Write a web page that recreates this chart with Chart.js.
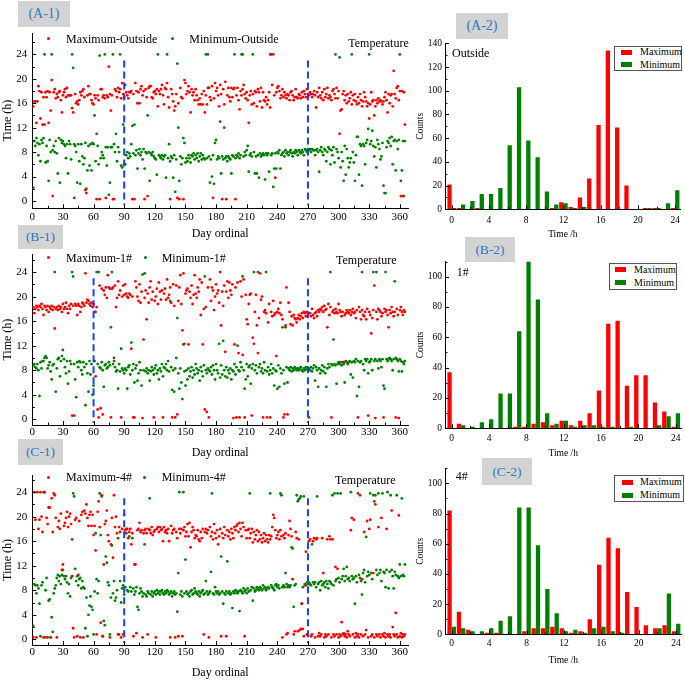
<!DOCTYPE html>
<html><head><meta charset="utf-8">
<script src="https://cdn.jsdelivr.net/npm/chart.js@4/dist/chart.umd.min.js"></script>
<style>
html,body{margin:0;padding:0;background:#fff;}
#wrap{position:relative;width:685px;height:682px;overflow:hidden;font-family:"Liberation Serif","Times New Roman",serif;}
canvas{position:absolute;}
.t{position:absolute;white-space:nowrap;color:#000;}
.tag{position:absolute;background:#d3d3d3;color:#2f75c5;text-align:center;}
.lg{position:absolute;border:1px solid #555;background:#fff;box-sizing:border-box;}
.dot{position:absolute;width:3px;height:3px;border-radius:50%;}
.sw{position:absolute;width:11px;height:5px;}
</style></head><body><div id="wrap"></div>
<script>
// ---------- DATA ----------
const dayOrdinal = Array.from({length: 365}, (_, i) => i + 1);
const dayTicks = [0,15,30,45,60,75,90,105,120,135,150,165,180,195,210,225,240,255,270,285,300,315,330,345,360];
const dayLabels = [0,30,60,90,120,150,180,210,240,270,300,330,360];
const timeTicks = [0,2,4,6,8,10,12,14,16,18,20,22,24,26];
const timeLabels = [0,4,8,12,16,20,24];
const hourBins = [0,1,2,3,4,5,6,7,8,9,10,11,12,13,14,15,16,17,18,19,20,21,22,23,24];
const hourTicks = [0,2,4,6,8,10,12,14,16,18,20,22,24];
const hourLabels = [0,4,8,12,16,20,24];
const countTicksA = [0,10,20,30,40,50,60,70,80,90,100,110,120,130,140];
const countLabelsA = [0,20,40,60,80,100,120,140];
const countTicksBC = [0,10,20,30,40,50,60,70,80,90,100,110];
const countLabelsBC = [0,20,40,60,80,100];

const markDaysA = [90, 270];
const markDaysB = [60, 270];
const markDaysC = [90, 270];
const markSpan = [23.0, -0.6];

// A-1 Outside
const maxOutside = [
15.5,16.3,16.3,12.8,16.3,18.8,18.0,13.5,17.8,12.5,
17.0,12.5,17.8,17.0,18.0,12.8,17.8,14.8,19.8,0.8,
17.8,18.3,16.8,17.5,17.0,17.8,18.0,16.5,14.5,17.3,
17.8,18.3,17.0,18.5,17.3,17.3,17.3,17.3,15.2,14.5,
0.5,17.5,16.0,16.3,15.8,16.5,17.8,17.3,18.0,18.3,
17.0,1.8,1.3,17.3,18.8,17.5,17.5,16.5,16.0,15.8,
17.3,16.8,0.3,17.3,16.5,0.3,18.3,18.3,17.0,17.3,
16.8,0.5,17.3,17.0,22.0,17.5,14.8,17.3,0.3,0.3,
18.3,18.0,17.0,18.5,17.8,18.3,16.8,19.3,17.5,17.0,
19.0,17.8,17.3,16.8,17.8,17.8,18.0,0.3,17.5,0.3,
19.3,18.0,16.0,17.8,16.0,18.3,18.8,17.3,18.0,0.3,
18.3,17.0,0.8,18.5,18.8,18.8,17.0,16.8,17.8,18.0,
17.5,18.3,15.5,18.0,17.5,18.3,19.0,17.3,15.8,18.5,
18.3,19.3,17.0,15.3,0.3,18.3,17.5,16.3,14.8,15.5,
17.5,0.5,16.0,0.3,18.5,17.0,16.8,0.3,19.8,19.3,
17.5,18.0,18.8,17.8,14.5,18.3,17.3,17.8,16.5,18.3,
17.3,16.5,15.8,16.8,15.8,17.5,15.8,18.0,14.5,17.3,
15.8,18.5,18.5,17.0,16.5,18.8,0.5,16.8,19.3,18.0,
18.5,17.3,15.5,19.0,17.5,0.3,18.3,15.8,19.5,0.3,
17.3,18.5,17.0,16.3,18.5,17.0,18.3,18.5,0.3,17.3,
18.5,16.5,15.0,18.0,17.3,18.3,19.0,17.5,16.8,17.8,
16.5,12.8,17.3,18.0,15.8,17.5,16.0,18.0,17.8,15.5,
18.3,17.8,16.3,18.5,15.3,17.8,16.5,16.3,17.0,15.8,
16.5,17.8,15.3,24.0,19.0,24.0,17.3,3.8,17.8,18.5,
18.8,18.0,16.8,17.3,18.3,17.0,17.8,17.3,16.8,17.5,
17.3,16.5,17.8,18.0,17.3,16.5,17.0,18.3,17.0,16.8,
17.5,17.3,16.8,17.8,17.0,18.0,17.5,17.0,18.3,17.5,
17.3,17.8,17.5,17.0,17.5,18.0,17.3,15.3,17.8,17.0,
18.5,17.3,16.8,17.8,16.5,18.3,17.0,17.5,18.5,16.8,
17.3,17.0,16.5,18.0,18.3,17.5,16.8,18.5,16.8,18.0,
11.0,14.8,15.0,17.5,18.0,16.5,17.3,16.0,17.5,16.3,
16.8,17.8,15.8,17.3,16.5,17.5,16.3,15.8,17.0,16.0,
17.5,16.5,15.5,16.3,17.8,17.0,16.3,15.5,16.0,13.5,
15.8,17.8,16.3,16.5,14.0,15.5,16.5,16.0,16.8,16.3,
16.5,16.3,15.8,16.3,17.0,17.8,16.5,14.5,17.5,16.0,
17.3,17.5,15.5,21.3,17.5,16.8,18.5,18.8,16.5,18.0,
0.8,18.0,0.8,17.8,12.5];
const minOutside = [
2.2,9.8,9.0,10.3,9.5,7.5,9.3,6.5,10.0,9.5,
10.3,24.0,6.3,9.0,6.5,3.3,10.0,8.0,24.0,8.3,
9.0,8.0,9.8,7.8,4.5,10.3,3.0,10.0,9.5,9.8,
9.3,9.0,7.0,9.3,4.5,9.8,9.3,6.8,24.0,21.8,
9.3,9.0,8.0,3.0,9.3,6.5,2.8,9.3,7.3,6.0,
7.0,9.5,2.0,5.0,9.0,5.8,9.3,5.0,9.5,9.3,
14.0,6.5,11.0,9.0,6.0,23.8,7.0,8.0,7.5,7.0,
24.0,8.8,5.8,8.8,1.0,3.0,8.8,8.8,24.0,9.3,
8.0,11.0,6.5,8.8,8.0,24.0,5.8,5.5,12.5,6.0,
6.0,7.5,8.0,7.0,7.8,7.3,9.3,12.3,7.8,12.5,
7.5,8.3,5.3,7.8,8.5,7.5,8.0,6.8,8.5,5.3,
8.0,7.8,14.0,8.0,3.3,7.8,7.5,8.0,7.3,7.0,
6.8,4.3,24.0,7.5,7.3,7.0,7.5,6.8,7.3,7.5,
3.8,24.0,7.0,9.3,6.5,7.3,7.0,3.8,7.5,1.5,
6.8,22.5,12.0,3.3,7.3,6.0,7.0,10.3,9.5,6.3,
7.0,6.5,7.5,7.0,6.3,7.5,7.3,7.8,6.8,7.5,
7.0,7.8,6.5,7.3,7.8,6.8,7.5,7.0,6.8,24.0,
7.0,24.0,7.3,3.0,6.8,4.0,7.5,2.8,9.5,10.0,
6.8,7.3,7.0,13.0,4.5,7.3,6.8,12.0,7.0,7.3,
6.5,7.3,7.0,6.8,4.5,7.5,7.3,24.0,7.0,7.5,
7.3,7.8,7.0,7.5,24.0,24.0,7.3,8.0,7.5,8.3,
9.0,4.8,7.5,7.8,7.3,24.0,8.0,4.5,7.3,4.5,
7.5,3.8,7.8,7.3,7.5,7.8,7.5,3.5,7.8,7.5,
7.8,4.8,24.0,7.5,7.8,2.3,5.3,7.8,5.3,8.0,
7.8,8.3,5.3,7.5,7.8,8.0,7.3,8.3,7.8,8.0,
7.5,8.0,8.3,7.8,7.3,8.0,7.8,8.3,8.0,7.5,
8.3,8.0,7.8,8.3,8.0,7.5,8.5,8.3,8.0,8.5,
8.3,8.5,8.0,8.5,8.3,8.3,7.5,8.3,8.5,8.0,
4.8,8.3,8.8,8.0,7.5,8.5,8.3,6.5,8.0,8.8,
8.5,6.0,8.3,7.5,8.8,6.3,24.0,8.5,8.0,7.0,
23.5,5.5,8.0,6.5,3.3,9.0,4.3,8.5,7.0,5.5,
6.3,7.0,24.0,8.0,6.3,3.3,7.5,10.5,10.5,4.3,
9.3,9.0,2.5,9.3,9.0,6.0,9.5,10.0,11.8,24.0,
9.3,9.8,11.5,9.0,7.3,8.8,5.5,10.0,9.3,8.5,
6.8,7.3,9.5,2.5,1.3,1.3,8.8,9.8,9.5,10.3,
9.0,10.5,6.0,9.8,10.0,5.0,9.8,8.5,10.0,24.0,
3.3,5.0,9.8,0.8,9.8];

// B-1 room 1#
const max1 = [
18.3,17.3,18.0,18.5,18.3,17.8,18.5,18.3,18.8,18.0,
17.0,18.5,18.3,17.8,18.5,17.5,18.3,18.0,18.5,17.8,
18.3,14.8,18.0,18.3,17.8,18.5,18.0,18.3,17.5,18.8,
18.0,18.3,19.0,18.0,17.3,18.5,18.0,18.8,0.6,18.5,
0.6,18.8,18.5,17.0,18.8,18.5,17.5,18.3,19.0,18.8,
18.5,23.8,19.0,19.5,19.3,18.8,18.5,19.0,18.3,18.8,
17.5,7.0,18.3,1.6,0.3,21.8,1.8,21.3,0.8,21.0,
20.3,21.5,19.8,23.5,21.5,21.3,0.3,21.3,21.5,9.5,
21.8,18.3,19.8,22.5,20.3,21.0,0.3,20.0,21.8,20.3,
22.0,20.5,20.0,19.8,20.5,20.3,11.5,20.0,0.3,0.3,
22.5,21.5,20.0,19.3,22.0,19.0,20.8,0.2,13.0,19.8,
21.0,16.3,20.5,19.0,21.5,22.5,19.5,20.8,0.3,19.3,
20.0,21.3,18.8,22.3,20.8,19.5,21.0,0.3,20.5,21.3,
19.5,22.8,19.8,20.3,21.5,19.0,0.3,22.0,18.5,0.3,
21.8,0.8,19.3,21.5,23.5,18.8,14.5,23.8,12.3,20.5,
21.0,21.3,12.2,20.8,19.8,21.8,18.8,20.3,23.5,20.5,
19.8,21.5,20.8,22.8,17.0,22.3,12.2,18.0,1.6,18.3,
1.2,21.5,0.3,22.8,19.3,21.5,21.0,17.8,20.0,22.0,
20.5,21.0,19.0,24.0,15.3,20.8,18.5,21.8,11.0,20.8,
22.5,19.8,22.3,21.0,20.3,22.0,0.2,12.2,21.5,0.3,
22.3,10.8,0.3,22.5,20.0,10.5,22.8,0.3,20.3,16.3,
15.5,18.8,20.3,20.5,0.6,13.3,12.3,17.5,20.3,15.3,
10.8,16.5,23.8,19.5,20.0,0.3,17.5,17.8,17.3,0.3,
15.8,18.8,0.3,17.5,16.8,19.3,17.0,17.3,10.3,17.5,
18.0,17.3,19.0,17.0,16.3,0.3,0.8,15.3,21.5,0.8,
19.0,17.5,15.5,16.8,15.3,17.0,16.5,16.3,15.8,16.5,
17.0,16.3,16.8,17.3,16.5,17.5,17.3,16.8,17.5,17.0,
0.3,17.3,16.8,18.0,17.0,16.5,17.3,17.5,16.8,17.8,
17.5,18.0,17.8,18.3,17.5,18.5,17.8,18.0,15.0,18.8,
17.0,18.3,0.3,17.5,17.8,17.3,18.0,17.5,17.3,18.8,
17.8,17.5,16.8,17.5,9.3,17.0,17.3,17.8,17.5,17.3,
17.8,17.0,17.5,18.0,17.3,17.5,16.5,17.8,0.3,18.3,
17.5,16.3,17.8,17.0,16.8,17.5,16.3,18.0,0.6,17.5,
17.0,14.0,16.5,17.8,21.8,0.2,17.5,16.3,18.0,17.8,
17.5,16.8,17.3,0.3,18.0,17.5,17.8,17.0,15.0,17.8,
17.3,18.3,17.5,16.8,17.5,0.3,18.0,17.0,0.2,17.8,
18.3,17.5,17.0,17.8,17.5];
const min1 = [
8.8,9.0,8.5,8.3,9.0,8.0,3.8,9.3,8.3,9.5,
9.5,10.0,10.3,10.0,8.3,8.8,9.3,7.8,6.5,8.8,
9.0,24.0,4.5,8.3,9.8,10.0,7.0,9.5,10.3,11.3,
9.8,8.5,7.5,9.5,5.8,7.8,9.5,9.0,24.0,23.3,
9.0,6.5,3.6,9.3,8.5,9.5,9.3,8.0,7.3,9.3,
8.5,2.3,9.0,7.5,4.5,9.5,7.3,9.0,4.0,5.5,
9.5,17.5,24.0,9.0,24.0,8.5,8.3,9.3,8.0,5.3,
8.8,9.0,8.3,8.5,9.3,8.8,15.0,24.0,9.0,10.0,
8.5,7.8,8.0,5.0,9.0,7.8,11.5,8.3,8.0,7.5,
8.3,8.0,5.0,8.5,8.8,7.3,12.5,8.0,9.0,6.0,
8.3,8.8,6.3,7.5,9.3,8.0,5.5,23.6,8.0,23.8,
7.8,8.3,7.5,8.0,6.3,7.8,8.5,8.0,7.3,8.3,
8.8,7.5,8.0,6.5,8.3,7.8,9.0,7.0,8.5,8.3,
9.0,8.0,9.5,7.8,19.3,8.5,4.8,8.0,4.5,8.3,
10.0,16.5,7.5,5.0,8.3,6.0,3.3,12.2,7.8,5.5,
8.0,6.5,8.3,7.0,7.8,8.5,6.8,8.0,7.3,9.0,
8.3,7.5,8.0,6.3,8.5,7.8,7.0,8.8,23.3,8.0,
7.5,8.3,8.0,7.8,8.5,7.3,8.8,8.0,6.5,9.0,
8.0,7.5,12.3,6.8,8.8,7.3,12.8,8.0,7.0,8.5,
6.8,8.0,7.5,8.3,6.5,8.0,7.8,9.0,7.3,8.5,
12.0,8.0,7.8,9.3,8.5,23.3,8.0,5.0,6.5,9.0,
7.0,8.5,8.8,5.8,8.3,9.0,24.0,8.0,8.8,7.5,
24.0,8.5,9.0,7.8,8.3,7.5,9.3,8.0,24.0,7.8,
8.5,7.3,8.0,9.0,7.5,8.3,5.5,8.0,7.8,5.0,
8.8,5.3,8.3,7.5,15.0,8.0,5.8,15.0,8.5,6.0,
8.3,8.0,8.5,7.8,8.3,8.0,8.5,8.3,8.0,8.3,
8.0,8.3,8.5,8.0,7.8,8.3,8.0,8.5,8.3,8.0,
8.3,8.0,8.5,7.8,8.3,8.8,6.3,8.5,8.0,5.3,
8.3,7.5,8.0,8.8,7.8,8.5,7.5,5.3,8.3,9.0,
8.5,24.0,9.0,8.8,13.0,9.0,8.8,5.8,9.0,9.3,
9.0,9.3,8.8,9.3,9.0,6.0,9.5,9.3,9.0,9.3,
9.5,7.3,9.3,6.8,9.5,9.3,9.8,3.8,9.5,5.3,
9.3,9.5,24.0,9.0,8.0,9.8,9.5,9.8,7.5,9.3,
9.5,9.8,8.0,24.0,9.5,9.8,24.0,9.5,8.3,9.8,
9.5,8.5,9.8,5.5,5.0,24.0,9.8,9.5,9.8,10.0,
9.8,9.5,8.0,9.8,22.5,10.0,9.8,9.5,7.8,9.8,
9.5,7.8,9.3,9.0,9.5];

// C-1 room 4#
const max4 = [
0.3,24.0,19.5,0.3,24.0,18.0,19.5,24.0,20.0,17.5,
0.3,24.0,0.3,19.8,18.8,21.5,21.5,0.3,23.0,17.5,
23.8,23.5,19.8,0.3,18.3,19.3,18.0,20.5,11.3,12.2,
18.5,19.0,19.8,20.8,18.3,20.0,20.5,18.8,10.3,1.8,
0.3,19.5,19.8,0.5,10.5,19.3,0.3,20.3,20.8,0.3,
21.0,20.5,22.0,19.8,18.5,20.3,20.8,18.5,20.3,17.0,
18.5,14.5,0.8,20.8,22.5,18.3,2.7,23.5,0.5,12.2,
18.8,19.3,21.0,17.0,16.0,0.3,15.5,19.8,13.3,23.5,
18.3,20.0,17.3,0.8,18.3,17.5,0.3,18.0,0.8,20.3,
17.8,17.3,18.0,16.5,17.5,18.0,15.5,17.3,0.5,12.2,
12.2,1.0,17.8,18.0,19.0,17.5,17.8,0.3,17.3,17.8,
18.0,17.3,0.8,18.0,17.8,17.3,18.3,17.0,17.5,17.8,
0.3,18.0,18.3,17.5,18.3,17.8,18.0,16.0,18.3,17.5,
17.8,17.3,18.0,16.0,0.3,18.5,17.3,17.8,18.0,0.3,
17.5,16.5,0.5,18.0,17.3,18.0,0.5,17.8,18.3,16.8,
17.5,18.8,16.8,19.0,15.0,17.5,18.3,17.8,16.5,17.0,
16.8,17.8,16.3,16.0,17.5,16.5,18.0,0.8,17.5,18.0,
17.3,17.8,0.3,18.3,16.8,17.5,16.3,18.8,17.3,16.5,
17.8,15.5,16.8,18.0,0.5,17.3,16.5,18.3,17.0,0.5,
17.8,16.8,17.5,16.3,18.0,17.3,16.5,18.3,17.8,18.5,
18.8,17.5,19.0,18.0,16.8,19.0,18.3,0.5,17.8,16.5,
17.8,18.0,16.5,17.3,18.0,15.8,17.5,16.3,17.0,17.8,
16.0,17.5,16.3,17.0,15.8,16.5,17.3,16.0,17.0,16.3,
15.8,17.0,16.3,16.8,18.3,20.3,19.8,17.8,16.5,17.0,
17.5,16.3,17.8,16.8,0.3,17.0,16.5,17.3,0.8,1.0,
17.0,19.3,18.0,16.8,9.8,0.8,1.3,17.5,16.5,1.3,
16.3,1.5,1.7,5.8,1.7,0.5,8.8,14.3,0.8,0.8,
16.0,16.3,0.5,0.8,16.0,16.5,0.3,16.3,16.5,0.5,
1.0,0.5,0.8,16.5,10.8,0.3,0.8,0.5,16.3,0.8,
16.8,16.3,0.3,16.3,0.8,0.5,11.8,0.8,11.5,0.3,
0.8,0.5,2.8,0.8,1.0,0.5,0.8,0.3,1.3,0.8,
0.5,17.8,19.8,0.8,19.5,0.3,1.0,0.5,0.8,0.3,
23.5,0.8,9.8,0.5,17.5,0.8,1.5,19.3,0.3,18.0,
19.5,0.5,0.8,10.8,0.3,22.0,0.8,0.5,18.3,0.8,
0.3,19.8,0.8,0.5,1.0,0.3,18.0,0.8,0.5,0.8,
0.3,21.0,2.0,0.8,0.5,4.3,0.8,0.3,20.2,0.5,
1.0,0.3,0.8,0.5,0.8];
const min4 = [
2.2,9.0,8.8,7.5,8.8,8.3,5.8,0.5,8.8,9.3,
24.0,24.0,8.0,10.0,0.3,6.3,6.5,0.3,3.6,1.2,
7.5,8.3,8.8,10.0,10.5,9.5,10.3,9.0,10.5,11.3,
10.3,9.8,10.3,9.3,7.5,9.0,7.0,10.0,16.3,23.8,
23.3,11.5,9.5,10.3,8.8,9.8,10.0,8.3,9.5,8.5,
8.3,1.8,6.8,0.5,4.0,5.5,7.0,5.3,4.8,0.8,
7.8,17.3,9.8,7.5,9.5,23.8,17.0,23.3,0.5,3.0,
2.3,13.5,12.5,9.3,8.8,0.8,6.8,15.3,7.5,9.5,
6.3,6.8,8.0,16.5,0.8,9.5,6.0,8.3,8.8,7.3,
8.5,18.0,8.0,7.8,16.8,8.5,7.8,16.5,8.3,7.3,
7.8,8.5,5.3,4.8,7.5,8.3,7.8,7.0,7.5,15.5,
7.3,7.0,7.8,7.5,23.0,7.3,7.8,7.0,7.5,7.8,
7.3,8.0,7.5,7.8,7.3,7.8,8.0,7.5,7.3,7.8,
7.5,8.0,7.8,7.3,7.5,7.8,7.0,7.5,7.8,7.3,
7.5,4.5,10.8,24.0,7.3,7.8,7.0,24.0,7.5,13.0,
7.8,7.3,7.5,7.0,7.8,8.0,7.3,7.5,8.3,7.8,
7.5,7.3,7.8,7.0,7.5,7.8,8.0,7.3,7.5,9.5,
7.8,7.3,7.5,7.8,11.0,23.8,7.5,7.3,8.5,7.8,
7.5,7.8,7.3,7.5,13.5,7.8,5.8,7.5,7.3,7.8,
12.7,7.5,7.8,7.3,7.5,5.1,7.8,7.5,8.0,7.8,
7.5,7.8,4.6,8.0,7.8,7.5,8.3,7.8,8.0,7.5,
8.3,7.8,23.8,8.0,8.5,6.3,8.3,7.8,8.0,8.5,
8.3,8.0,8.5,8.3,8.0,8.8,8.3,8.5,8.0,8.3,
8.5,8.3,23.8,8.8,8.5,8.3,8.0,8.8,9.0,8.5,
8.8,8.3,23.8,23.5,8.5,8.8,8.5,10.8,9.0,8.5,
8.8,8.5,8.8,15.0,14.8,5.3,8.8,9.0,23.5,22.5,
22.8,23.0,23.3,5.8,8.5,23.3,9.0,8.8,9.3,9.0,
9.3,9.0,8.8,15.5,9.3,9.0,9.3,8.5,23.3,9.0,
9.3,8.0,9.5,8.8,9.0,9.3,8.5,9.5,9.0,8.3,
9.5,9.3,9.0,23.5,8.8,23.8,9.5,9.8,23.8,10.0,
9.3,23.8,9.8,10.3,11.5,9.5,10.3,11.8,9.8,10.0,
9.5,24.0,10.3,9.8,10.0,5.8,10.3,9.3,23.8,10.5,
10.0,9.5,7.3,10.8,11.3,9.3,16.7,10.3,11.0,10.5,
23.8,10.8,9.8,23.5,22.5,23.5,11.3,10.5,23.8,10.8,
11.3,9.5,23.8,11.0,10.8,8.5,11.3,24.0,8.3,11.0,
23.5,11.3,10.3,8.3,11.0,10.5,23.5,10.3,10.0,12.2,
10.3,23.0,10.5,10.3,12.2];

// Histogram counts (hour bins 0..24)
const countMaxOutside = [21,1,0,1,0,0,0,0,0,0,0,1,6,2,10,26,71,134,69,20,0,1,1,0,1];
const countMinOutside = [1,4,7,13,13,18,54,103,58,44,15,4,5,1,2,0,0,0,0,0,0,1,1,5,16];
const countMax1 = [37,3,0,0,0,0,0,1,1,3,4,2,5,2,5,10,25,69,71,28,35,35,17,11,1];
const countMin1 = [0,2,1,4,6,23,23,64,110,85,10,3,5,1,2,2,1,1,0,1,0,0,2,8,10];
const countMax4 = [82,15,3,0,1,1,0,0,2,4,4,5,4,1,2,10,46,64,57,28,18,6,4,6,2];
const countMin4 = [5,4,2,2,4,9,12,84,84,59,30,14,2,3,1,4,5,2,1,0,0,0,4,27,7];

// ---------- DRAWING ----------
const RED = '#ff0000', GREEN = '#008000', BLUE = '#1a3cff';
const FAM = "'Liberation Serif','Times New Roman',serif";
const wrap = document.getElementById('wrap');

const innerTicks = {
  id: 'innerTicks',
  afterDraw(chart) {
    const {ctx, chartArea: a} = chart;
    const sx = chart.scales.x, sy = chart.scales.y;
    ctx.save(); ctx.strokeStyle = '#000'; ctx.lineWidth = 1; ctx.beginPath();
    sx.ticks.forEach(t => { const p = Math.round(sx.getPixelForValue(t.value)) + 0.5; const l = t.label ? 4 : 2.5; ctx.moveTo(p, a.bottom); ctx.lineTo(p, a.bottom - l); });
    sy.ticks.forEach(t => { const p = Math.round(sy.getPixelForValue(t.value)) + 0.5; const l = t.label ? 4 : 2.5; ctx.moveTo(a.left, p); ctx.lineTo(a.left + l, p); });
    ctx.stroke(); ctx.restore();
  }
};

function makeCanvas(g) {
  const c = document.createElement('canvas');
  c.width = g.w; c.height = g.h;
  c.style.left = g.l + 'px'; c.style.top = g.t + 'px';
  c.style.width = g.w + 'px'; c.style.height = g.h + 'px';
  wrap.appendChild(c);
  return c;
}
function axis(o) {
  return {
    type: 'linear', min: o.min, max: o.max, offset: false,
    grid: {display: false, drawTicks: false},
    border: {display: true, color: '#000', width: 1},
    afterBuildTicks: s => { s.ticks = o.ticks.map(v => ({value: v})); },
    ticks: {autoSkip: false, maxRotation: 0, padding: o.pad, color: '#000', font: {family: FAM, size: o.fs},
      callback: v => o.labels.includes(v) ? String(v) : ''},
    title: {display: true, text: o.title, color: '#000', font: {family: FAM, size: o.tfs}, padding: o.tpad},
    afterFit: s => { if (o.w !== undefined) s.width = o.w; if (o.h !== undefined) s.height = o.h; }
  };
}
function txt(s, x, cy, size, extra) {
  const d = document.createElement('div');
  d.className = 't'; d.textContent = s;
  d.style.left = x + 'px'; d.style.top = (cy - size * 0.6) + 'px';
  d.style.fontSize = size + 'px'; d.style.lineHeight = (size * 1.2) + 'px';
  if (extra) Object.assign(d.style, extra);
  wrap.appendChild(d);
}
function tag(s, l, t, w, h, fs) {
  const d = document.createElement('div');
  d.className = 'tag'; d.textContent = s;
  Object.assign(d.style, {left: l + 'px', top: t + 'px', width: w + 'px', height: h + 'px', lineHeight: h + 'px', fontSize: fs + 'px'});
  wrap.appendChild(d);
}
function dot(x, y, col) {
  const d = document.createElement('div'); d.className = 'dot';
  Object.assign(d.style, {left: (x - 1.5) + 'px', top: (y - 1.5) + 'px', background: col});
  wrap.appendChild(d);
}

function scatterPanel(g, maxArr, minArr, marks, labels) {
  const c = makeCanvas(g);
  const ds = [];
  marks.forEach(m => ds.push({type: 'line', label: 'mark', data: markSpan.map(v => ({x: m, y: v})),
    borderColor: BLUE, borderWidth: 2, borderDash: [7, 4], pointRadius: 0, fill: false}));
  ds.push({label: labels[0], data: dayOrdinal.map((d, i) => ({x: d, y: maxArr[i]})), backgroundColor: RED, pointRadius: 1.4, pointBorderWidth: 0, pointHoverRadius: 0});
  ds.push({label: labels[1], data: dayOrdinal.map((d, i) => ({x: d, y: minArr[i]})), backgroundColor: GREEN, pointRadius: 1.4, pointBorderWidth: 0, pointHoverRadius: 0});
  new Chart(c, {
    type: 'scatter', data: {datasets: ds},
    options: {
      responsive: false, animation: false, devicePixelRatio: 1,
      layout: {padding: {top: g.pt, right: g.pr, left: 0, bottom: 0}},
      plugins: {legend: {display: false}, tooltip: {enabled: false}},
      scales: {
        x: axis({min: 0, max: 368, ticks: dayTicks, labels: dayLabels, pad: g.xpad, fs: 11, title: 'Day ordinal', tfs: 12, tpad: {top: 0, bottom: g.xtpad}, h: g.xh}),
        y: axis({min: g.ymin, max: g.ymax, ticks: timeTicks, labels: timeLabels, pad: 5, fs: 11, title: 'Time (h)', tfs: 12, tpad: {top: 0.5, bottom: 0}, w: 32.3})
      }
    },
    plugins: [innerTicks]
  });
}

function barPanel(g, maxArr, minArr, cTicks, cLabels, cMax) {
  const c = makeCanvas(g);
  new Chart(c, {
    type: 'bar',
    data: {datasets: [
      {label: 'Maximum', data: hourBins.map((h, i) => ({x: h, y: maxArr[i]})), backgroundColor: RED, borderWidth: 0, barPercentage: 1, categoryPercentage: 0.92},
      {label: 'Minimum', data: hourBins.map((h, i) => ({x: h, y: minArr[i]})), backgroundColor: GREEN, borderWidth: 0, barPercentage: 1, categoryPercentage: 0.92}
    ]},
    options: {
      responsive: false, animation: false, devicePixelRatio: 1,
      layout: {padding: {top: g.pt, right: g.pr, left: 0, bottom: 0}},
      plugins: {legend: {display: false}, tooltip: {enabled: false}},
      scales: {
        x: axis({min: -0.72, max: 24.6, ticks: hourTicks, labels: hourLabels, pad: g.xpad, fs: 9.5, title: 'Time /h', tfs: 9.5, tpad: {top: 0, bottom: g.xtpad}, h: g.xh}),
        y: axis({min: 0, max: cMax, ticks: cTicks, labels: cLabels, pad: 3, fs: 9.5, title: 'Counts', tfs: 9.5, tpad: {top: 4.8, bottom: 0}, w: 35})
      }
    },
    plugins: [innerTicks]
  });
}
function barLegend(l, t, w, h, rx, tx, y1, y2) {
  const b = document.createElement('div'); b.className = 'lg';
  Object.assign(b.style, {left: l + 'px', top: t + 'px', width: w + 'px', height: h + 'px'});
  wrap.appendChild(b);
  [[RED, 'Maximum', y1], [GREEN, 'Minimum', y2]].forEach(([col, s, y]) => {
    const sw = document.createElement('div'); sw.className = 'sw';
    Object.assign(sw.style, {left: rx + 'px', top: (y - 2.5) + 'px', background: col});
    wrap.appendChild(sw);
    txt(s, tx, y, 10);
  });
}

// Left column scatter panels
scatterPanel({l: 0, t: 0, w: 415, h: 245, pt: 33, pr: 7, xh: 36.7, xpad: 1.8, xtpad: 3.8, ymin: -1.2, ymax: 27.5},
  maxOutside, minOutside, markDaysA, ['Maximum-Outside', 'Minimum-Outside']);
scatterPanel({l: 0, t: 225, w: 415, h: 235, pt: 29.3, pr: 7, xh: 35, xpad: 0.8, xtpad: 0, ymin: -0.93, ymax: 26.9},
  max1, min1, markDaysB, ['Maximum-1#', 'Minimum-1#']);
scatterPanel({l: 0, t: 445, w: 415, h: 237, pt: 30, pr: 7, xh: 37, xpad: 0.3, xtpad: 1.8, ymin: -0.93, ymax: 26.8},
  max4, min4, markDaysC, ['Maximum-4#', 'Minimum-4#']);

// Right column histograms
barPanel({l: 410, t: 0, w: 275, h: 245, pt: 43.3, pr: 3.3, xh: 35.7, xpad: 5, xtpad: 5.3}, countMaxOutside, countMinOutside, countTicksA, countLabelsA, 140);
barPanel({l: 410, t: 225, w: 275, h: 235, pt: 36.5, pr: 3.3, xh: 31.7, xpad: 4.4, xtpad: 1.3}, countMax1, countMin1, countTicksBC, countLabelsBC, 110);
barPanel({l: 410, t: 445, w: 275, h: 237, pt: 23.2, pr: 3.3, xh: 47.7, xpad: 3.2, xtpad: 16.3}, countMax4, countMin4, countTicksBC, countLabelsBC, 110);

// Panel tags
tag('(A-1)', 18, 1, 52, 26, 14);
tag('(A-2)', 456, 13, 52, 26, 14);
tag('(B-1)', 18, 225, 45, 24, 13.5);
tag('(B-2)', 465, 237, 50, 25, 13.5);
tag('(C-1)', 18, 439, 45, 26, 13.5);
tag('(C-2)', 482, 458, 50, 27, 13.5);

// Scatter legends and notes
dot(48.3, 38.5, RED); txt('Maximum-Outside', 66, 39, 12);
dot(172.3, 38.5, GREEN); txt('Minimum-Outside', 189.3, 39, 12);
txt('Temperature', 348.3, 42.7, 12);
dot(48.3, 257.7, RED); txt('Maximum-1#', 66, 258, 12);
dot(145, 257.7, GREEN); txt('Minimum-1#', 161.7, 258, 12);
txt('Temperature', 336, 260, 12);
dot(48.3, 477.3, RED); txt('Maximum-4#', 66, 477.5, 12);
dot(144.3, 477.3, GREEN); txt('Minimum-4#', 161.7, 477.5, 12);
txt('Temperature', 335, 480, 12);

// Histogram notes and legends
txt('Outside', 452, 53.3, 12);
txt('1#', 456.7, 271.7, 12);
txt('4#', 455.7, 476, 12);
barLegend(614, 46, 68, 25, 621, 640, 52, 64.5);
barLegend(609.3, 263.3, 67.4, 26.7, 615, 634, 269.5, 282.7);
barLegend(614, 475, 70, 26.7, 622.3, 640, 482.3, 495);
</script></body></html>
